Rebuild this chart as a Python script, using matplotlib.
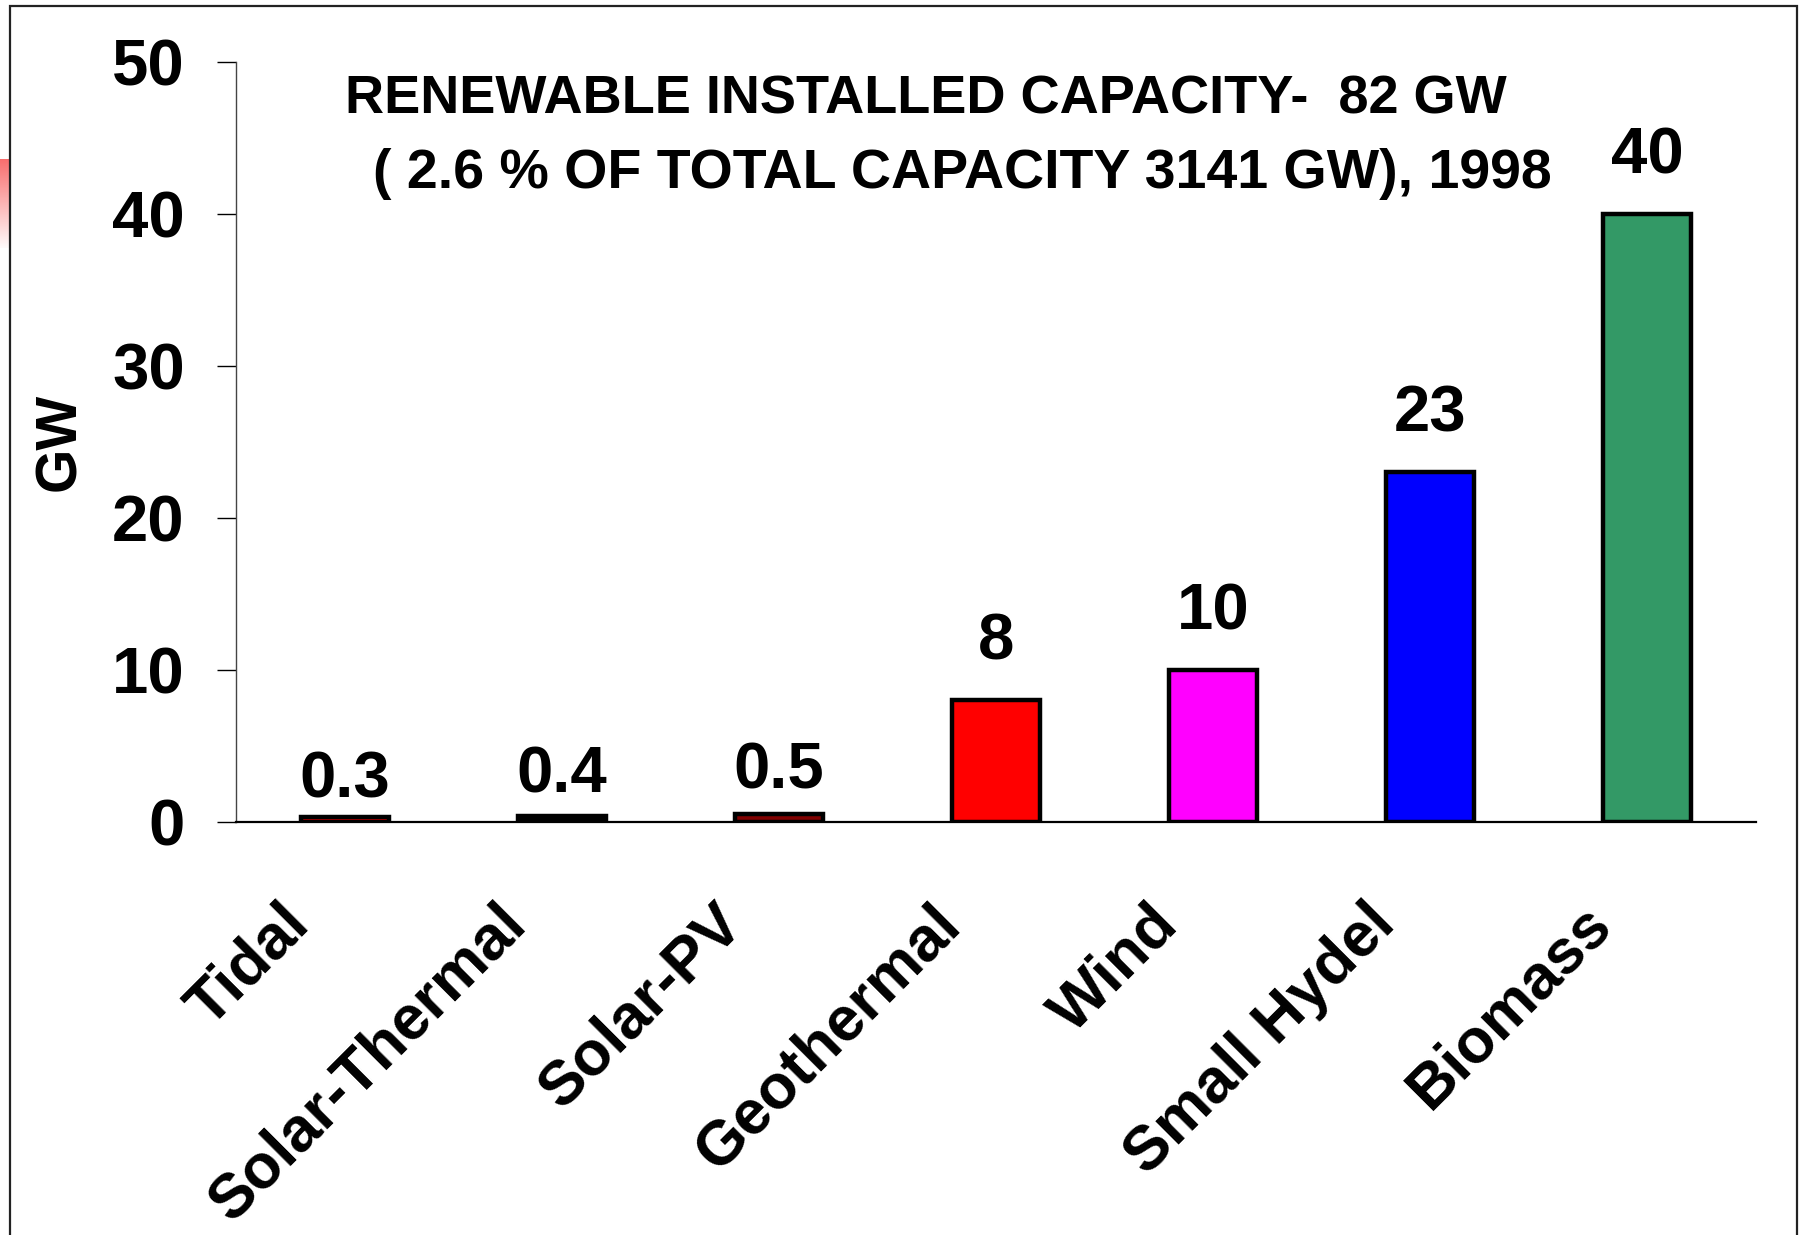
import matplotlib
matplotlib.use("Agg")
import matplotlib.pyplot as plt
import matplotlib.transforms as mtransforms
from matplotlib.patches import Rectangle
import numpy as np

# ---- data ----
categories = ["Tidal", "Solar-Thermal", "Solar-PV", "Geothermal", "Wind", "Small Hydel", "Biomass"]
values = [0.3, 0.4, 0.5, 8, 10, 23, 40]
value_labels = ["0.3", "0.4", "0.5", "8", "10", "23", "40"]
bar_colors = ["#FF0000", "#000000", "#800000", "#FF0000", "#FF00FF", "#0000FF", "#339966"]
yticks = [0, 10, 20, 30, 40, 50]
title_line1 = "RENEWABLE INSTALLED CAPACITY-  82 GW"
title_line2 = "( 2.6 % OF TOTAL CAPACITY 3141 GW), 1998"
ylabel = "GW"

# label gaps above bars in pixels (style)
label_gap_px = [20, 23, 26, 41, 41, 41, 41]

W, H = 1803, 1235
DPI = 100
plt.rcParams['font.family'] = ['Liberation Sans', 'DejaVu Sans']
plt.rcParams['font.weight'] = 'bold'

fig = plt.figure(figsize=(W / DPI, H / DPI), dpi=DPI)
fig.patch.set_facecolor("white")

# slide frame
fig.add_artist(Rectangle((10 / W, -0.05), (1797 - 10) / W, 1.05 - 6 / H,
                         transform=fig.transFigure, fill=False,
                         edgecolor="#222222", linewidth=1.6))
# small reddish gradient at left edge
gax = fig.add_axes([0, 1 - 248 / H, 9 / W, 89 / H])
grad = np.linspace(0, 1, 100).reshape(-1, 1)
top = np.array([248, 110, 110]) / 255
bot = np.array([255, 250, 250]) / 255
img = top[None, None, :] * (1 - grad[:, :, None]) + bot[None, None, :] * grad[:, :, None]
gax.imshow(img, aspect="auto")
gax.axis("off")

left, right = 236 / W, 1756 / W
bottom, topy = 1 - 822 / H, 1 - 62 / H
ax = fig.add_axes([left, bottom, right - left, topy - bottom])

x = np.arange(len(categories))
ax.bar(x, values, width=0.405, color=bar_colors, edgecolor="black", linewidth=3.2, zorder=3)

ax.set_xlim(-0.5, len(categories) - 0.5)
ax.set_ylim(0, 50)
ax.set_yticks(yticks)
ax.set_yticklabels([str(t) for t in yticks], fontsize=47, fontweight="bold")
ax.tick_params(axis="y", length=14, width=1.0, pad=23, direction="out")
ax.set_xticks([])

for s in ["top", "right"]:
    ax.spines[s].set_visible(False)
ax.spines["left"].set_linewidth(1.0)
ax.spines["left"].set_color("#444444")
ax.spines["bottom"].set_linewidth(1.6)

ax.set_ylabel(ylabel, fontsize=41, fontweight="bold")
ax.yaxis.set_label_coords((87 - 236) / 1520, 0.5)

# value labels
for i, (v, lab) in enumerate(zip(values, value_labels)):
    ax.annotate(lab, xy=(x[i], v), xytext=(0, label_gap_px[i] * 72 / DPI),
                textcoords="offset points", ha="center", va="baseline",
                fontsize=47, fontweight="bold")

# category labels (rotated)
for i, c in enumerate(categories):
    off = mtransforms.ScaledTranslation(-45 / DPI, -93 / DPI, fig.dpi_scale_trans)
    ax.text(x[i], 0, c, transform=ax.transData + off, rotation=45,
            rotation_mode="anchor", ha="right", va="center",
            fontsize=45, fontweight="bold")

# title
fig.text(926 / W, 1 - 99 / H, title_line1, ha="center", va="center",
         fontsize=39, fontweight="bold")
fig.text(962 / W, 1 - 174 / H, title_line2, ha="center", va="center",
         fontsize=40, fontweight="bold")

fig.savefig("out.png", dpi=DPI)
